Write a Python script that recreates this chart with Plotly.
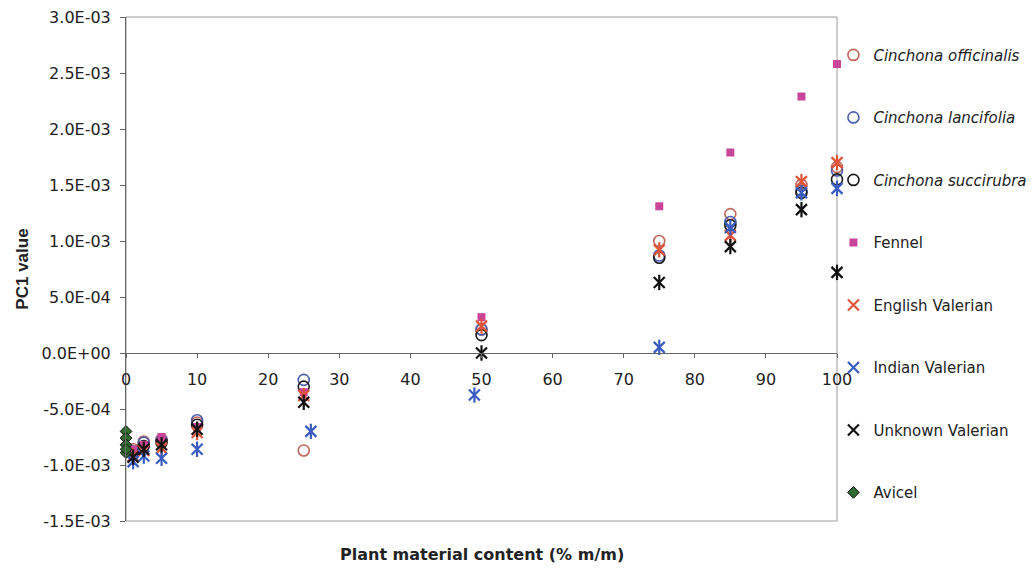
import plotly.graph_objects as go

# ---- data ----
content = [1, 2.5, 5, 10, 25, 50, 75, 85, 95, 100]
indian_content = [1, 2.5, 5, 10, 26, 49, 75, 85, 95, 100]
avicel_content = [0, 0, 0, 0, 0]

officinalis = [-0.86e-3, -0.79e-3, -0.77e-3, -0.62e-3, -0.87e-3, 0.21e-3, 1.00e-3, 1.24e-3, 1.50e-3, 1.66e-3]
lancifolia  = [-0.88e-3, -0.80e-3, -0.78e-3, -0.60e-3, -0.24e-3, 0.21e-3, 0.87e-3, 1.17e-3, 1.45e-3, 1.63e-3]
succirubra  = [-0.90e-3, -0.83e-3, -0.80e-3, -0.64e-3, -0.30e-3, 0.16e-3, 0.85e-3, 1.14e-3, 1.43e-3, 1.55e-3]
fennel      = [-0.86e-3, -0.82e-3, -0.75e-3, -0.66e-3, -0.35e-3, 0.32e-3, 1.31e-3, 1.79e-3, 2.29e-3, 2.58e-3]
english     = [-0.92e-3, -0.87e-3, -0.85e-3, -0.71e-3, -0.38e-3, 0.24e-3, 0.92e-3, 1.05e-3, 1.53e-3, 1.70e-3]
indian      = [-0.97e-3, -0.92e-3, -0.94e-3, -0.86e-3, -0.70e-3, -0.375e-3, 0.05e-3, 1.12e-3, 1.43e-3, 1.47e-3]
unknown     = [-0.93e-3, -0.86e-3, -0.82e-3, -0.68e-3, -0.44e-3, 0.0, 0.63e-3, 0.95e-3, 1.28e-3, 0.72e-3]
avicel      = [-0.70e-3, -0.76e-3, -0.82e-3, -0.89e-3, -0.86e-3]

y_tickvals = [3.0e-3, 2.5e-3, 2.0e-3, 1.5e-3, 1.0e-3, 0.5e-3, 0.0, -0.5e-3, -1.0e-3, -1.5e-3]
y_ticktext = ["3.0E-03", "2.5E-03", "2.0E-03", "1.5E-03", "1.0E-03", "5.0E-04",
              "0.0E+00", "-5.0E-04", "-1.0E-03", "-1.5E-03"]
x_tickvals = [0, 10, 20, 30, 40, 50, 60, 70, 80, 90, 100]

FONT = "DejaVu Sans, Liberation Sans, Arial, sans-serif"
TXT = "#222222"

series = [
    ("<i>Cinchona officinalis</i>", content, officinalis, "circle-open", "#c0665a", 11),
    ("<i>Cinchona lancifolia</i>", content, lancifolia, "circle-open", "#4a5fb0", 11),
    ("<i>Cinchona succirubra</i>", content, succirubra, "circle-open", "#1a1a1a", 11),
    ("Fennel", content, fennel, "square", "#c8459a", 8),
    ("English Valerian", content, english, "star", "#e0553a", 11),
    ("Indian Valerian", indian_content, indian, "star", "#3a5cc0", 11),
    ("Unknown Valerian", content, unknown, "star", "#111111", 11),
    ("Avicel", avicel_content, avicel, "diamond", "#2f6b2f", 9),
]

fig = go.Figure()
for i, (name, xs, ys, sym, col, size) in enumerate(series):
    grp = f"g{i}"
    if sym == "star":
        # Excel-style star: an X with a vertical bar through it
        fig.add_trace(go.Scatter(x=xs, y=ys, mode="markers", name=name, legendgroup=grp,
                                 cliponaxis=False,
                                 marker=dict(symbol="x-thin-open", size=size, color=col,
                                             line=dict(width=2.2, color=col))))
        fig.add_trace(go.Scatter(x=xs, y=ys, mode="markers", name=name, legendgroup=grp,
                                 showlegend=False, cliponaxis=False, hoverinfo="skip",
                                 marker=dict(symbol="line-ns-open", size=size, color=col,
                                             line=dict(width=2.2, color=col))))
    elif sym == "circle-open":
        fig.add_trace(go.Scatter(x=xs, y=ys, mode="markers", name=name, legendgroup=grp,
                                 cliponaxis=False,
                                 marker=dict(symbol=sym, size=size, color=col,
                                             line=dict(width=1.6))))
    elif sym == "diamond":
        fig.add_trace(go.Scatter(x=xs, y=ys, mode="markers", name=name, legendgroup=grp,
                                 cliponaxis=False,
                                 marker=dict(symbol=sym, size=size, color=col,
                                             line=dict(width=1, color="#111111"))))
    else:
        fig.add_trace(go.Scatter(x=xs, y=ys, mode="markers", name=name, legendgroup=grp,
                                 cliponaxis=False,
                                 marker=dict(symbol=sym, size=size, color=col,
                                             line=dict(width=0))))

fig.update_layout(
    width=1032, height=571,
    margin=dict(l=126, r=195, t=17, b=50, autoexpand=False),
    paper_bgcolor="white", plot_bgcolor="white",
    font=dict(family=FONT, size=15, color=TXT),
    showlegend=True,
    legend=dict(x=0.995, xanchor="left", y=0.957, yanchor="top",
                tracegroupgap=40, font=dict(size=15, color=TXT),
                bgcolor="rgba(0,0,0,0)", itemwidth=30),
    xaxis=dict(range=[0, 100], tickvals=x_tickvals, ticks="outside", ticklen=4,
               tickcolor="#666666", showline=True, linecolor="#666666", linewidth=1,
               showgrid=False, zeroline=False, anchor="free", position=1.5 / 4.5,
               ticklabelstandoff=8, automargin=False,
               tickfont=dict(family=FONT, size=16, color=TXT)),
    yaxis=dict(range=[-1.5e-3, 3.0e-3], tickvals=y_tickvals, ticktext=y_ticktext,
               ticks="outside", ticklen=5, tickcolor="#666666", showline=True,
               linecolor="#666666", linewidth=1, showgrid=False, zeroline=False,
               ticklabelstandoff=6, automargin=False,
               tickfont=dict(family=FONT, size=16, color=TXT),
               title=dict(text="<b>PC1 value</b>",
                          font=dict(family="Liberation Sans, Arial, sans-serif", size=17, color=TXT),
                          standoff=8)),
    shapes=[dict(type="rect", xref="paper", yref="paper", x0=0, x1=1, y0=0, y1=1,
                 line=dict(color="#9a9a9a", width=1), layer="below")],
    annotations=[dict(text="<b>Plant material content (% m/m)</b>", xref="paper", yref="paper",
                      x=0.5, y=-0.044, xanchor="center", yanchor="top", showarrow=False,
                      font=dict(family=FONT, size=16, color=TXT))],
)

fig.write_html("out.html")
